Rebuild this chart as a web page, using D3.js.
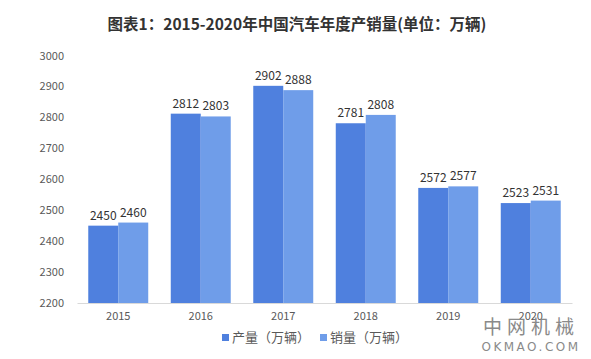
<!DOCTYPE html>
<html><head><meta charset="utf-8">
<script src="https://cdn.jsdelivr.net/npm/d3@7"></script>
<style>body{margin:0;background:#fff;}svg{display:block;}</style>
</head><body>
<script>
const years = ["2015","2016","2017","2018","2019","2020"];
const production = [2450,2812,2902,2781,2572,2523];
const sales = [2460,2803,2888,2808,2577,2531];
const yTicks = [2200,2300,2400,2500,2600,2700,2800,2900,3000];
const seriesNames = ["产量（万辆）","销量（万辆）"];
const colors = ["#4f80de","#6f9de9"];
const title = "图表1：2015-2020年中国汽车年度产销量(单位：万辆)";

const W=591,H=359;
const svg=d3.select("body").append("svg").attr("width",W).attr("height",H);
const font="'Microsoft YaHei','Noto Sans CJK SC',sans-serif";

const x=d3.scaleBand().domain(years).range([77,572]).paddingInner(0.273).paddingOuter(0.1365);
const xs=d3.scaleBand().domain([0,1]).range([0,x.bandwidth()]);
const y=d3.scaleLinear().domain([2200,3000]).range([303,55.5]);

svg.append("text").attr("x",297).attr("y",30).attr("text-anchor","middle")
 .attr("font-family",font).attr("font-weight","bold").attr("font-size",15.5).attr("fill","#333").text(title);

// y labels
const ya=svg.append("g").attr("transform","translate(64,0)")
 .call(d3.axisLeft(y).tickValues(yTicks).tickFormat(d3.format("d")).tickSize(0).tickPadding(0));
ya.select(".domain").remove();
ya.selectAll("text").attr("font-family",font).attr("font-size",11).attr("fill","#595959");

// x axis
const xa=svg.append("g").attr("transform","translate(0,303)")
 .call(d3.axisBottom(x).tickSize(0).tickPadding(9));
xa.select(".domain").attr("stroke","#d9d9d9");
xa.selectAll("text").attr("font-family",font).attr("font-size",11).attr("fill","#595959");

const series=[production,sales];
series.forEach((vals,si)=>{
  const g=svg.append("g");
  g.selectAll("rect").data(vals).join("rect")
   .attr("x",(d,i)=>x(years[i])+xs(si)).attr("width",xs.bandwidth())
   .attr("y",d=>y(d)).attr("height",d=>y(2200)-y(d)).attr("fill",colors[si]);
  g.selectAll("text").data(vals).join("text")
   .attr("x",(d,i)=>x(years[i])+xs(si)+xs.bandwidth()/2).attr("y",d=>y(d)-6)
   .attr("text-anchor","middle").attr("font-family",font).attr("font-size",12).attr("fill","#333").text(d=>d);
});

// legend
const lg=svg.append("g");
const lx=[222,320];
seriesNames.forEach((n,i)=>{
  lg.append("rect").attr("x",lx[i]).attr("y",334).attr("width",7).attr("height",7).attr("fill",colors[i]);
  lg.append("text").attr("x",lx[i]+10).attr("y",342).attr("font-family",font).attr("font-size",13).attr("fill","#595959").text(n);
});

// watermark
svg.append("text").attr("x",531).attr("y",334).attr("text-anchor","middle").attr("font-family",font)
 .attr("font-size",19).attr("fill","#8a8a8a").attr("letter-spacing",5).text("中网机械");
svg.append("text").attr("x",531).attr("y",351).attr("text-anchor","middle").attr("font-family","'DejaVu Sans',sans-serif")
 .attr("font-size",12).attr("fill","#8a8a8a").attr("letter-spacing",2.5).text("OKMAO.COM");
</script>
</body></html>
